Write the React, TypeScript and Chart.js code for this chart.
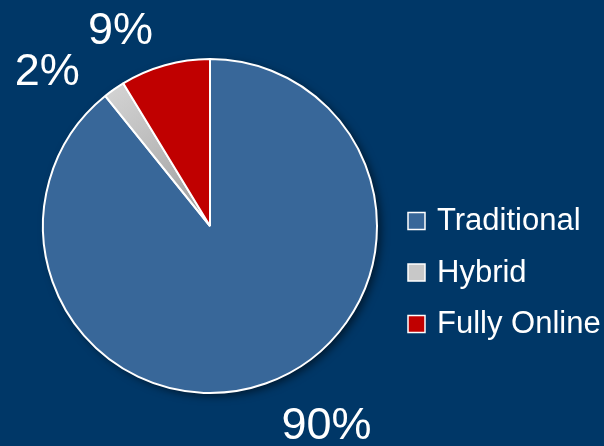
import React, { useEffect, useRef } from "react";
import { Chart, registerables } from "chart.js";

Chart.register(...registerables);

// ---- data ----
const categories = ["Traditional", "Hybrid", "Fully Online"];
const shares = [89.2, 2.1, 8.7];
const shareLabels = ["90%", "2%", "9%"];

// ---- styles ----
const BG = "#003767";
const sliceColors = ["#386799", "#C8C8C8", "#C00000"];
const FONT = '"Liberation Sans", Arial, sans-serif';
// label placement: angular shift (deg) and distance as multiple of radius
const labelPlacement = [
  { shift: -11.2, dist: 1.369 },
  { shift: -11, dist: 1.353 },
  { shift: -8.7, dist: 1.3 },
];

const shadowPlugin = {
  id: "pieShadow",
  beforeDatasetsDraw(chart: any) {
    const meta = chart.getDatasetMeta(0);
    const arc = meta.data[0];
    if (!arc) return;
    const { x, y, outerRadius } = arc.getProps(["x", "y", "outerRadius"], true);
    const c = chart.ctx;
    c.save();
    c.shadowColor = "rgba(0,0,0,0.55)";
    c.shadowBlur = 8;
    c.shadowOffsetX = 4;
    c.shadowOffsetY = 3;
    c.beginPath();
    c.arc(x, y, outerRadius, 0, Math.PI * 2);
    c.fillStyle = BG;
    c.fill();
    c.restore();
  },
};

const labelPlugin = {
  id: "pctLabels",
  afterDatasetsDraw(chart: any) {
    const meta = chart.getDatasetMeta(0);
    const c = chart.ctx;
    const size = 45;
    c.save();
    c.font = `${size}px ${FONT}`;
    c.fillStyle = "#ffffff";
    c.textAlign = "center";
    c.textBaseline = "alphabetic";
    meta.data.forEach((arc: any, i: number) => {
      const { x, y, startAngle, endAngle, outerRadius } = arc.getProps(
        ["x", "y", "startAngle", "endAngle", "outerRadius"],
        true
      );
      const p = labelPlacement[i];
      const mid = (startAngle + endAngle) / 2 + (p.shift * Math.PI) / 180;
      const r = outerRadius * p.dist;
      const tx = x + Math.cos(mid) * r;
      const ty = y + Math.sin(mid) * r + size * 0.358;
      c.fillText(shareLabels[i], tx, ty);
    });
    c.restore();
  },
};

const legendPlugin = {
  id: "sideLegend",
  afterDraw(chart: any) {
    const c = chart.ctx;
    const size = 31;
    const boxX = 408;
    const textX = 437;
    const firstY = 219;
    const gap = 51.5;
    const box = 17;
    c.save();
    c.font = `${size}px ${FONT}`;
    c.textAlign = "left";
    c.textBaseline = "alphabetic";
    categories.forEach((name, i) => {
      const cy = firstY + gap * i;
      c.fillStyle = sliceColors[i];
      c.fillRect(boxX, cy + 2 - box / 2, box, box);
      c.strokeStyle = "#ffffff";
      c.lineWidth = 1.5;
      c.strokeRect(boxX, cy + 2 - box / 2, box, box);
      c.fillStyle = "#ffffff";
      c.fillText(name, textX, cy + size * 0.358);
    });
    c.restore();
  },
};

export default function App() {
  const ref = useRef<HTMLCanvasElement | null>(null);

  useEffect(() => {
    if (!ref.current) return;
    const chart = new Chart(ref.current, {
      type: "pie",
      data: {
        labels: categories,
        datasets: [
          {
            data: shares,
            backgroundColor: (ctx: any) => {
              const i = ctx.dataIndex;
              const ch = ctx.chart;
              if (i === 1 && ch.chartArea) {
                const a = ch.chartArea;
                const cx = (a.left + a.right) / 2;
                const cy = (a.top + a.bottom) / 2;
                const r = Math.min(a.right - a.left, a.bottom - a.top) / 2;
                const g = ch.ctx.createRadialGradient(cx, cy, 0, cx, cy, r);
                g.addColorStop(0, "#9a9a9a");
                g.addColorStop(0.6, "#bdbdbd");
                g.addColorStop(1, "#d2d2d2");
                return g;
              }
              return sliceColors[i];
            },
            borderColor: "#ffffff",
            borderWidth: 2,
          },
        ],
      },
      options: {
        responsive: false,
        animation: false,
        devicePixelRatio: 1,
        layout: { padding: { left: 42, right: 226, top: 58, bottom: 52 } },
        plugins: {
          legend: { display: false },
          tooltip: { enabled: false },
        },
      },
      plugins: [shadowPlugin, labelPlugin, legendPlugin],
    });
    return () => chart.destroy();
  }, []);

  return (
    <div
      style={{
        position: "fixed",
        left: 0,
        top: 0,
        width: 604,
        height: 446,
        background: BG,
      }}
    >
      <canvas ref={ref} width={604} height={446} style={{ display: "block" }} />
    </div>
  );
}
